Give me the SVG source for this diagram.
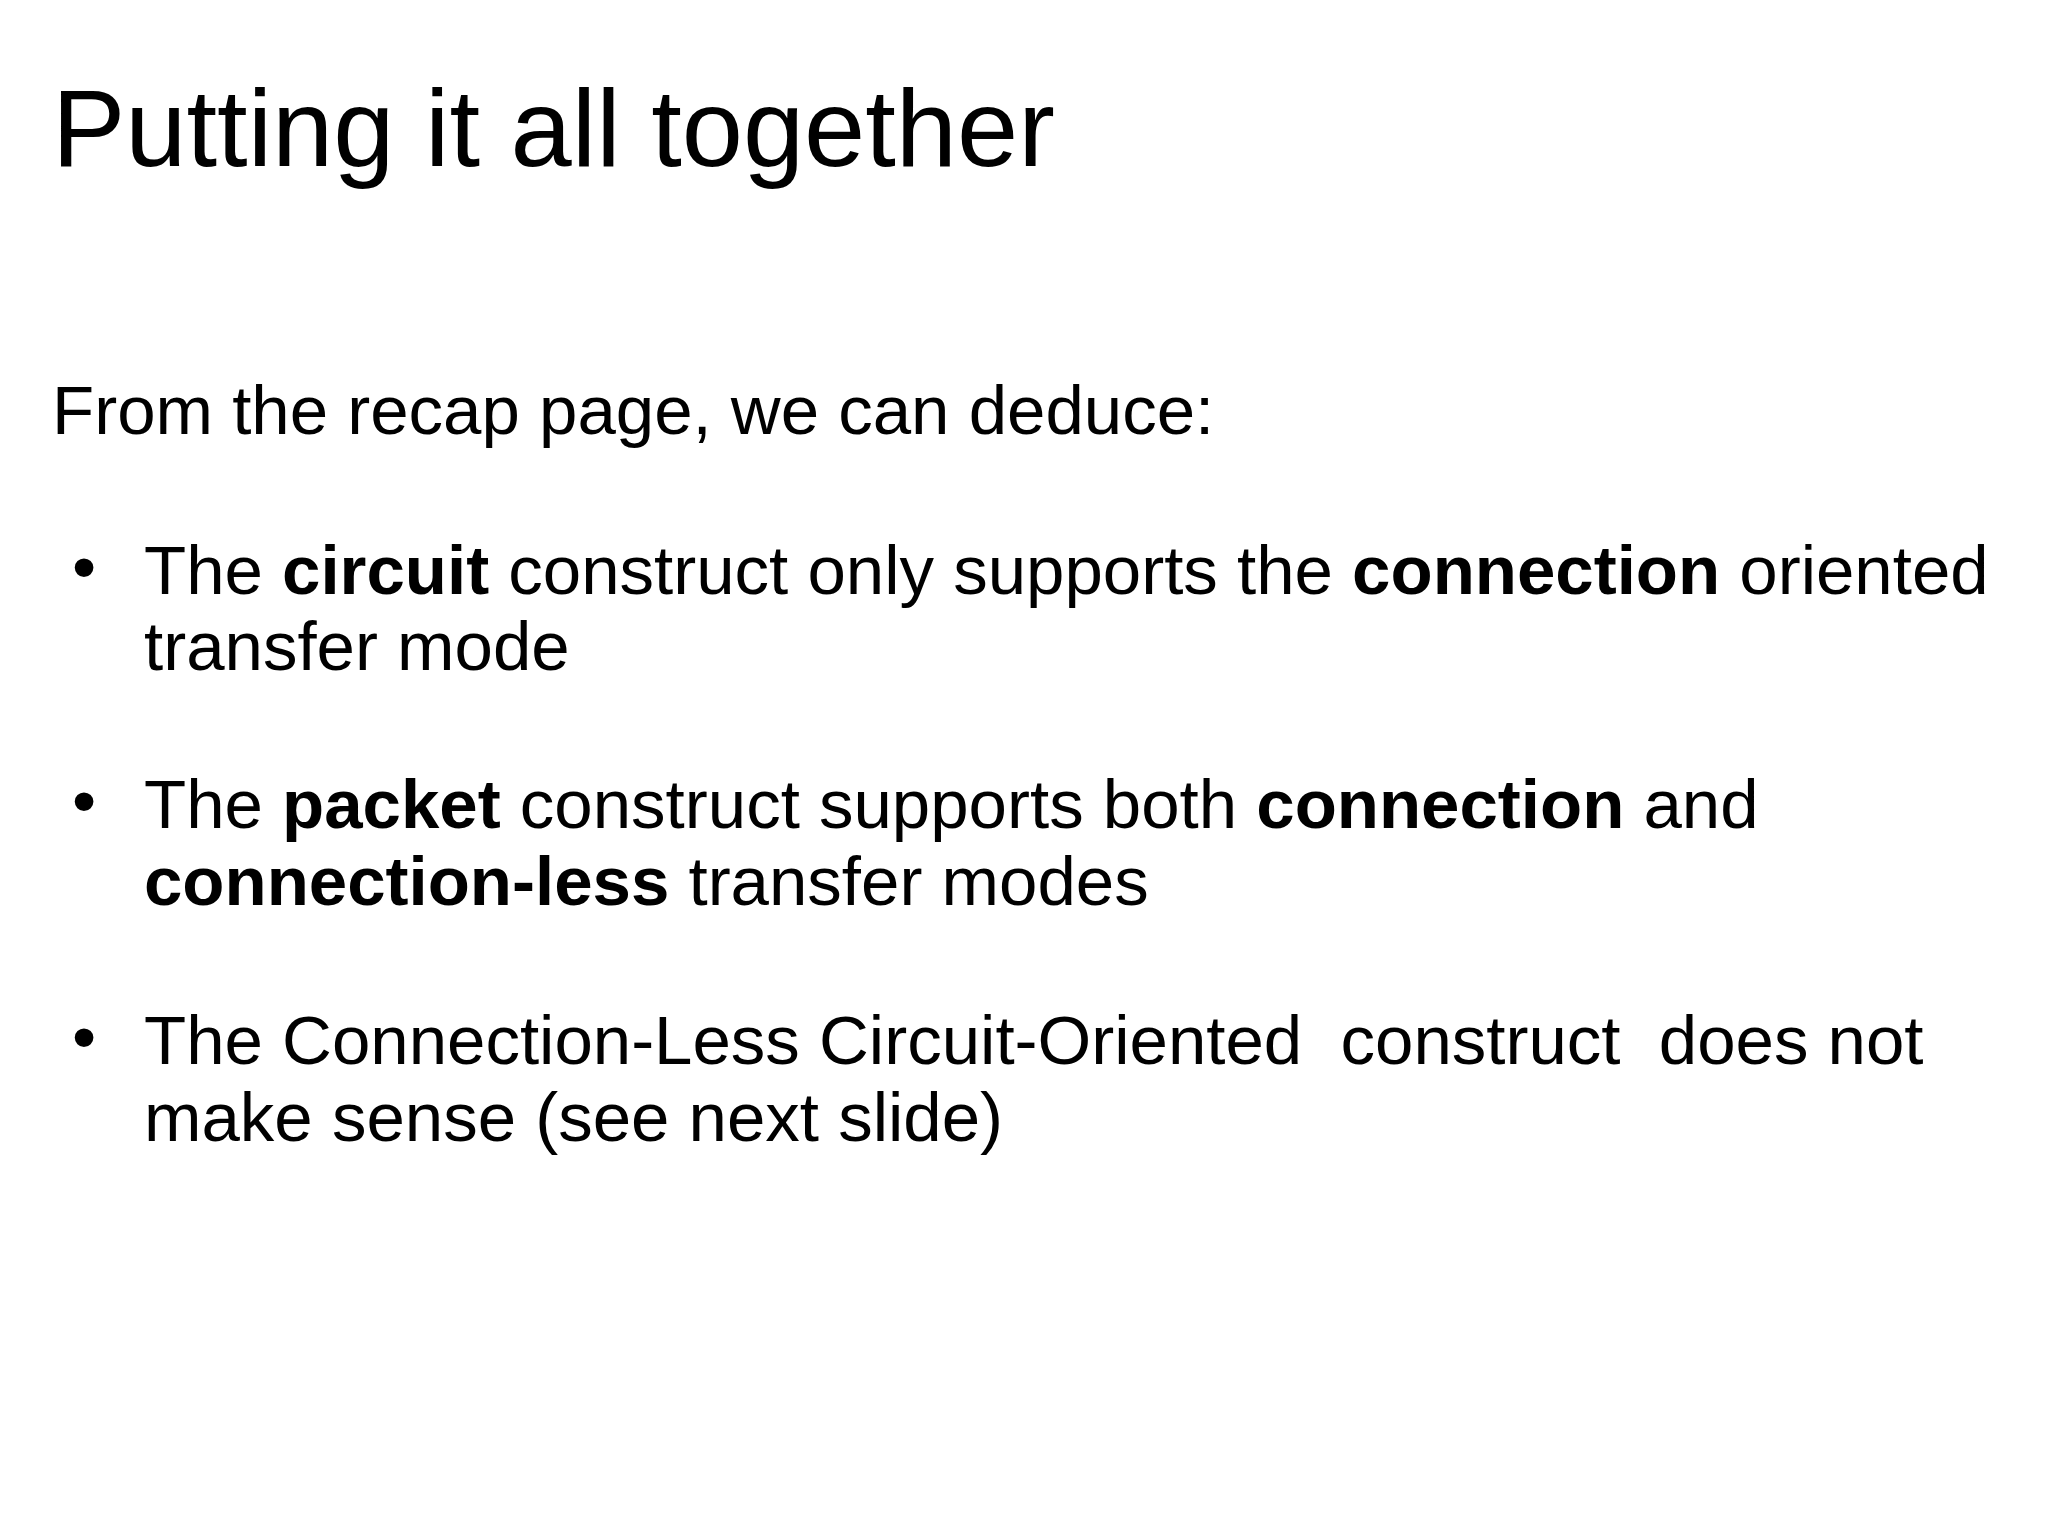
<svg xmlns="http://www.w3.org/2000/svg" width="2048" height="1536" viewBox="0 0 2048 1536">
<style>
text{font-family:"Liberation Sans",Arial,sans-serif;fill:#000}
.b{font-size:69px}
.s{font-weight:bold}
</style>
<rect width="2048" height="1536" fill="#fff"/>
<text x="52" y="166" font-size="110">Putting it all together</text>
<text x="52" y="434" font-size="69">From the recap page, we can deduce:</text>
<g class="b">
<text x="72" y="590" class="b">•</text>
<text x="144" y="594" class="b">The <tspan class="s">circuit</tspan> construct only supports the <tspan class="s">connection</tspan> oriented</text>
<text x="144" y="670" class="b">transfer mode</text>
<text x="72" y="824" class="b">•</text>
<text x="144" y="828" class="b">The <tspan class="s">packet</tspan> construct supports both <tspan class="s">connection</tspan> and</text>
<text x="144" y="905" class="b"><tspan class="s">connection-less</tspan> transfer modes</text>
<text x="72" y="1060" class="b">•</text>
<text x="144" y="1064" class="b" xml:space="preserve">The Connection-Less Circuit-Oriented  construct  does not</text>
<text x="144" y="1141" class="b">make sense (see next slide)</text>
</g>
</svg>
